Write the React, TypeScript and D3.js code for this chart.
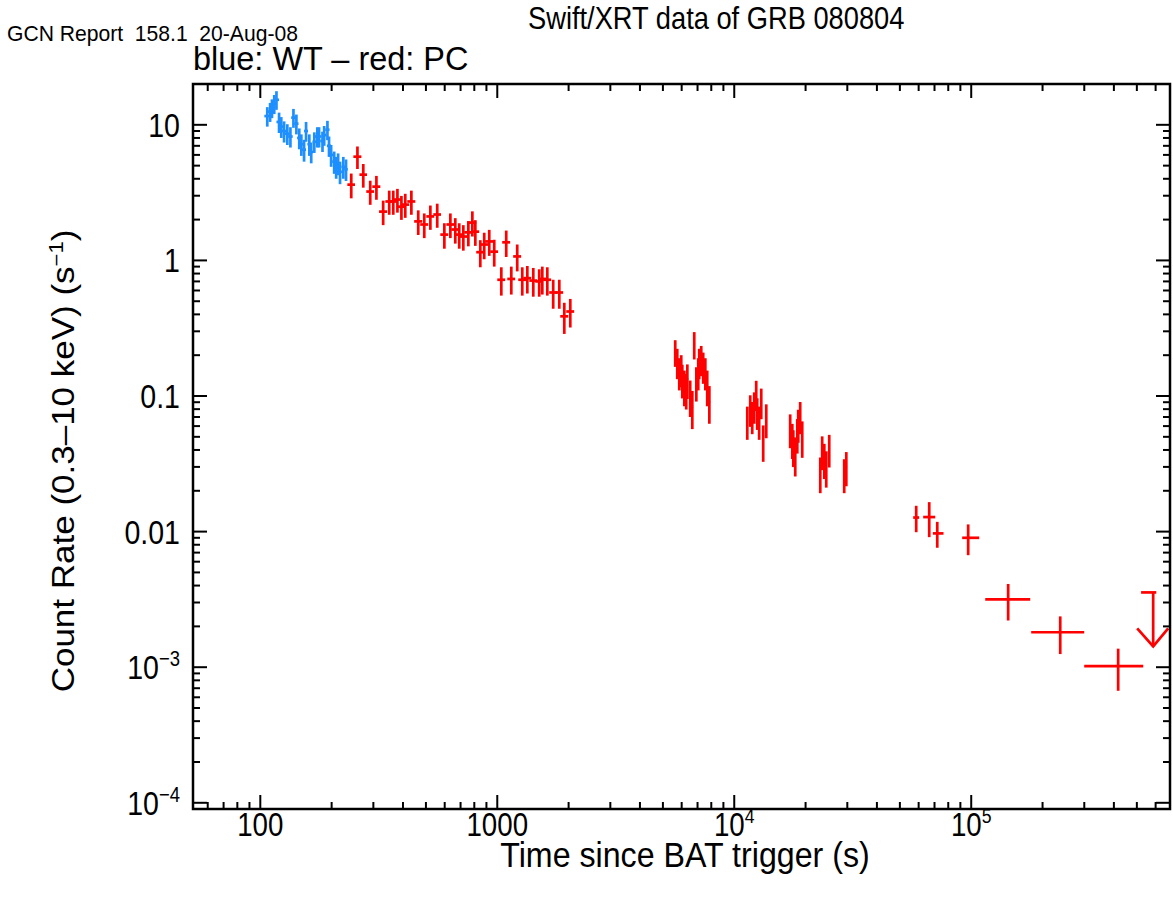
import React from 'react';
import * as d3 from 'd3';

const W = 1173;
const H = 899;
const FONT = '"Liberation Sans", Arial, Helvetica, sans-serif';

// axis ranges (log)
const xDomain = [52, 6.9e5];
const yDomain = [9e-5, 20];

const xMajor = [100, 1000, 1e4, 1e5];
const xMajorLabels = [['100', ''], ['1000', ''], ['10', '4'], ['10', '5']];
const yMajor = [10, 1, 0.1, 0.01, 1e-3, 1e-4];
const yMajorLabels = [['10', ''], ['1', ''], ['0.1', ''], ['0.01', ''], ['10', '\u22123'], ['10', '\u22124']];

// WT mode: [time, timeErr, rate, rateErr]
const wtPoints = [
  [107, 3, 11.6, 1.9], [110, 3, 12.5, 2.0], [112, 3, 13.3, 2.1], [114.5, 3, 14.3, 2.3],
  [117, 3, 15.3, 2.4], [120, 3, 10.5, 1.8], [122.6, 3, 9.7, 1.7], [126, 3, 9.0, 1.6],
  [130, 3, 8.6, 1.5], [134, 3, 8.2, 1.4], [138, 3, 11.3, 1.8], [142, 3, 10.2, 1.7],
  [146, 3, 8.0, 1.4], [149, 3, 7.2, 1.3], [153, 3, 6.55, 1.2], [156, 3, 9.0, 1.5],
  [161, 3, 7.2, 1.3], [164, 3, 6.3, 1.1], [169, 3, 7.5, 1.3], [174, 4, 8.2, 1.4],
  [177, 4, 8.2, 1.4], [183, 4, 7.6, 1.3], [186, 4, 8.4, 1.4], [192, 4, 9.2, 1.5],
  [195, 4, 7.0, 1.2], [199, 4, 6.0, 1.1], [205, 4, 5.35, 1.0], [209, 4, 4.9, 0.9],
  [213, 4, 5.2, 0.95], [217, 4, 4.5, 0.85], [224, 4, 4.9, 0.9], [230, 4, 4.7, 0.85],
];

// PC mode, first orbit: [time, timeErr, rate, rateErr]
const pcEarly = [
  [242, 9, 3.62, 0.75], [257, 10, 5.82, 1.1], [272, 10, 4.29, 0.85], [291, 11, 3.22, 0.65],
  [309, 12, 3.5, 0.7], [330, 13, 2.29, 0.47], [350, 13, 2.72, 0.55], [364, 14, 2.72, 0.55],
  [379, 14, 2.81, 0.56], [394, 15, 2.49, 0.5], [409, 16, 2.58, 0.52], [434, 17, 2.72, 0.55],
  [464, 18, 1.94, 0.4], [492, 19, 1.84, 0.38], [522, 20, 2.11, 0.43], [558, 21, 2.18, 0.44],
  [598, 23, 1.55, 0.33], [634, 24, 1.84, 0.38], [665, 25, 1.69, 0.36], [691, 26, 1.55, 0.33],
  [719, 27, 1.5, 0.32], [755, 29, 1.61, 0.34], [785, 30, 1.9, 0.4], [808, 31, 1.63, 0.35],
  [848, 33, 1.15, 0.26], [881, 34, 1.31, 0.29], [925, 36, 1.38, 0.3], [971, 37, 1.16, 0.26],
  [1040, 40, 0.72, 0.17], [1091, 42, 1.36, 0.3], [1146, 44, 0.73, 0.17], [1214, 47, 1.07, 0.24],
  [1275, 49, 0.72, 0.17], [1339, 51, 0.74, 0.17], [1419, 54, 0.71, 0.17], [1503, 57, 0.7, 0.16],
  [1549, 59, 0.73, 0.17], [1626, 62, 0.72, 0.17], [1722, 66, 0.58, 0.14], [1827, 70, 0.58, 0.14],
  [1918, 74, 0.387, 0.1], [2033, 78, 0.42, 0.1],
];

// PC mode, later orbits: [time, timeErr, rate, rateErr]
const pcOrbit2 = [
  [5636, 50, 0.211, 0.047], [5748, 50, 0.178, 0.045], [5861, 50, 0.15, 0.04], [5975, 50, 0.158, 0.042],
  [6036, 50, 0.133, 0.037], [6155, 50, 0.119, 0.035], [6270, 55, 0.1125, 0.033], [6340, 55, 0.133, 0.038],
  [6518, 55, 0.1, 0.03], [6653, 55, 0.083, 0.026], [6780, 55, 0.241, 0.055], [6918, 60, 0.127, 0.036],
  [7048, 60, 0.15, 0.04], [7115, 60, 0.178, 0.045], [7256, 60, 0.187, 0.047], [7396, 60, 0.166, 0.043],
  [7550, 60, 0.15, 0.04], [7691, 65, 0.119, 0.035], [7852, 65, 0.0904, 0.028],
];
const pcOrbit3 = [
  [11350, 90, 0.0655, 0.018], [11680, 90, 0.0802, 0.021], [11910, 90, 0.0713, 0.019],
  [12140, 90, 0.0844, 0.022], [12380, 90, 0.1035, 0.026], [12500, 90, 0.0762, 0.02],
  [12740, 90, 0.0655, 0.018], [13000, 90, 0.0904, 0.023], [13250, 100, 0.0467, 0.014],
  [13650, 100, 0.0678, 0.019],
];
const pcOrbit4 = [
  [17220, 130, 0.0572, 0.016], [17580, 130, 0.0483, 0.014], [17750, 130, 0.0429, 0.013],
  [18090, 130, 0.0375, 0.012], [18450, 140, 0.0526, 0.015], [18620, 140, 0.0622, 0.017],
  [18980, 140, 0.0713, 0.019], [19360, 140, 0.05, 0.015],
];
const pcOrbit5 = [
  [23070, 180, 0.0272, 0.008], [23500, 180, 0.0394, 0.011], [23990, 180, 0.0344, 0.01],
  [24450, 180, 0.0301, 0.009], [25170, 190, 0.0407, 0.011],
];
const pcOrbit6 = [
  [29110, 220, 0.0267, 0.0075], [29710, 220, 0.0301, 0.0085],
];

// late PC bins: [time, timeMinus, timePlus, rate, rateErr]
const pcLate = [
  [58600, 1700, 1700, 0.0127, 0.0028],
  [66500, 3800, 4000, 0.0128, 0.0037],
  [71900, 3000, 4500, 0.0097, 0.0021],
  [97100, 5500, 11000, 0.009, 0.0023],
  [143200, 28600, 34200, 0.00316, 0.00095],
  [237500, 58400, 62300, 0.00181, 0.00056],
  [417000, 117200, 115000, 0.00102, 0.00035],
];

// upper limit: [time, timeMinus, timePlus, rate]
const pcUpperLimit = [[586000, 65000, 18000, 0.00356]];

const BLUE = '#1e8fff';
const RED = '#ff0000';

const App = () => {
  const x = d3.scaleLog().domain(xDomain).range([193, 1170]);
  const y = d3.scaleLog().domain(yDomain).range([809, 84]);
  const [x0, x1] = x.range();
  const [y0, y1] = y.range();

  const cross = (t, tm, tp, r, re, color, key) => {
    const lo = Math.max(r - re, yDomain[0]);
    return (
      <g key={key} stroke={color} strokeWidth={2.7}>
        <line x1={x(t - tm)} x2={x(t + tp)} y1={y(r)} y2={y(r)} />
        <line x1={x(t)} x2={x(t)} y1={y(lo)} y2={y(r + re)} />
      </g>
    );
  };

  const isMajor = (v) => Math.abs(Math.log10(v) - Math.round(Math.log10(v))) < 1e-9;
  const xTicks = x.ticks();
  const yTicks = y.ticks();

  const hText = (sx) => (px, py) => `translate(${px},${py}) scale(${sx},1)`;
  const tr = hText(0.84);

  return (
    <svg width={W} height={H} style={{ position: 'absolute', left: 0, top: 0, background: '#fff' }}>
      <g fontFamily={FONT} fill="#000">
        <text transform={hText(0.96)(7, 41)} fontSize={22} style={{ whiteSpace: 'pre' }}>
          GCN Report  158.1  20-Aug-08
        </text>
        <text transform={hText(0.88)(528, 29)} fontSize={31}>Swift/XRT data of GRB 080804</text>
        <text transform={hText(0.955)(193, 70)} fontSize={34}>{'blue: WT \u2013 red: PC'}</text>

        {xMajor.map((v, i) => (
          <text key={'xl' + i} transform={tr(x(v), 836)} fontSize={33} textAnchor="middle">
            {xMajorLabels[i][0]}
            {xMajorLabels[i][1] && <tspan dy={-13} fontSize={21}>{xMajorLabels[i][1]}</tspan>}
          </text>
        ))}
        {yMajor.map((v, i) => (
          <text key={'yl' + i} transform={tr(180, y(v) + 12)} fontSize={34} textAnchor="end">
            {yMajorLabels[i][0]}
            {yMajorLabels[i][1] && <tspan dy={-13} fontSize={22}>{yMajorLabels[i][1]}</tspan>}
          </text>
        ))}

        <text transform={hText(0.92)(685, 867)} fontSize={35} textAnchor="middle">
          Time since BAT trigger (s)
        </text>
        <text transform={`translate(74,461) rotate(-90) scale(1,0.88)`} fontSize={35} textAnchor="middle">
          {'Count Rate (0.3\u201310 keV) (s'}
          <tspan dy={-13} fontSize={22}>{'\u22121'}</tspan>
          <tspan dy={13}>)</tspan>
        </text>
      </g>

      <g>
        {wtPoints.map((d, i) => cross(d[0], d[1], d[1], d[2], d[3], BLUE, 'wt' + i))}
        {[pcEarly, pcOrbit2, pcOrbit3, pcOrbit4, pcOrbit5, pcOrbit6].map((s, j) =>
          s.map((d, i) => cross(d[0], d[1], d[1], d[2], d[3], RED, `pc${j}-${i}`))
        )}
        {pcLate.map((d, i) => cross(d[0], d[1], d[2], d[3], d[4], RED, 'late' + i))}
        {pcUpperLimit.map((d, i) => {
          const ux = x(d[0]);
          const uy = y(d[3]);
          const tip = uy + 54;
          return (
            <g key={'ul' + i} stroke={RED} strokeWidth={2.7} fill="none">
              <line x1={x(d[0] - d[1])} x2={x(d[0] + d[2])} y1={uy} y2={uy} />
              <line x1={ux} x2={ux} y1={uy} y2={tip} />
              <polyline points={`${ux - 16},${tip - 18} ${ux},${tip} ${ux + 15},${tip - 18}`} />
            </g>
          );
        })}
      </g>

      <g stroke="#000" strokeWidth={2}>
        {xTicks.map((v, i) => {
          const len = isMajor(v) ? 14 : 7;
          return (
            <g key={'xt' + i}>
              <line x1={x(v)} x2={x(v)} y1={y0} y2={y0 - len} />
              <line x1={x(v)} x2={x(v)} y1={y1} y2={y1 + len} />
            </g>
          );
        })}
        {yTicks.map((v, i) => {
          const len = isMajor(v) ? 14 : 7;
          return (
            <g key={'yt' + i}>
              <line x1={x0} x2={x0 + len} y1={y(v)} y2={y(v)} />
              <line x1={x1} x2={x1 - len} y1={y(v)} y2={y(v)} />
            </g>
          );
        })}
        <rect x={x0} y={y1} width={x1 - x0} height={y0 - y1} fill="none" strokeWidth={2.5} />
      </g>
    </svg>
  );
};

export default App;
